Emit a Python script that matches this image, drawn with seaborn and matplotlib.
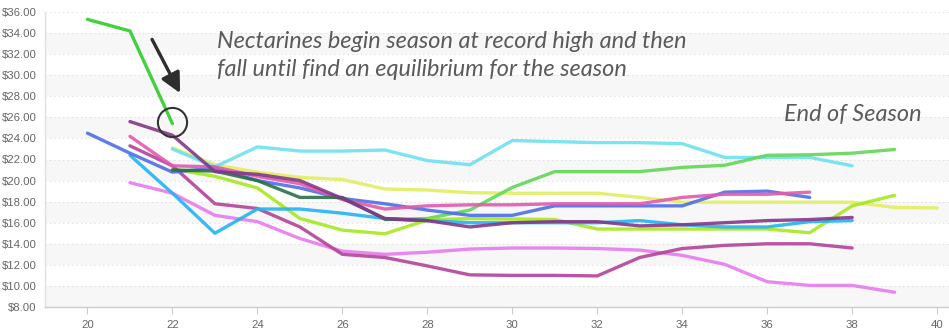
import numpy as np
import pandas as pd
import matplotlib
matplotlib.use("Agg")
import matplotlib.pyplot as plt
import seaborn as sns

# ---- data ----
weeks_ticks = [20, 22, 24, 26, 28, 30, 32, 34, 36, 38, 40]

nectarines_start = 20
nectarines = [35.3, 34.2, 25.4]

blue_start = 20
blue = [24.5, 22.6, 20.8, 21.2, 20.0, 19.3, 18.3, 17.8, 17.2, 16.7, 16.7,
        17.6, 17.6, 17.6, 17.6, 18.9, 19.0, 18.4]

skyblue_start = 21
skyblue = [22.4, 18.8, 15.0, 17.3, 17.3, 16.9, 16.4, 16.2, 16.0, 16.0, 16.0,
           16.0, 16.2, 15.8, 15.6, 15.6, 16.1, 16.2]

cyan_start = 22
cyan = [23.0, 21.3, 23.2, 22.8, 22.8, 22.9, 21.9, 21.5, 23.8, 23.7, 23.6,
        23.6, 23.5, 22.2, 22.2, 22.2, 21.4]

darkpurple_start = 21
darkpurple = [25.6, 24.3, 20.85, 20.6, 20.0, 18.3, 16.4, 16.2, 15.6, 16.0,
              16.1, 16.1, 15.7, 15.8, 16.0, 16.2, 16.3, 16.5]

pink_start = 21
pink = [24.2, 21.4, 21.3, 20.4, 19.7, 18.2, 17.3, 17.6, 17.7, 17.7, 17.8,
        17.8, 17.8, 18.4, 18.7, 18.7, 18.9]

magenta_start = 21
magenta = [23.3, 21.4, 17.8, 17.35, 15.6, 13.0, 12.7, 11.9, 11.05, 11.0,
           11.0, 10.95, 12.7, 13.55, 13.85, 14.0, 14.0, 13.6]

violet_start = 21
violet = [19.8, 18.8, 16.7, 16.1, 14.5, 13.3, 13.0, 13.2, 13.5, 13.6, 13.6,
          13.55, 13.4, 12.9, 12.05, 10.4, 10.05, 10.05, 9.4]

yellow_start = 22
yellow = [23.1, 21.5, 20.8, 20.3, 20.1, 19.2, 19.1, 18.85, 18.8, 18.8, 18.8,
          18.4, 17.95, 17.95, 17.95, 17.95, 17.95, 17.45, 17.4]

lime_start = 22
lime = [21.1, 20.4, 19.3, 16.4, 15.3, 14.95, 16.25, 16.4, 16.35, 16.3, 15.4,
        15.4, 15.4, 15.4, 15.4, 15.05, 17.6, 18.6]

green_start = 27
green = [16.3, 16.4, 17.2, 19.35, 20.85, 20.85, 20.85, 21.25, 21.45, 22.4,
         22.45, 22.6, 22.95]

darkgreen_start = 22
darkgreen = [21.0, 20.9, 20.0, 18.4, 18.4, 16.35, 16.2]

series = [
    ("Light yellow", yellow_start, yellow, "#e2ee62"),
    ("Cyan", cyan_start, cyan, "#6ee0f0"),
    ("Green", green_start, green, "#62d658"),
    ("Lime", lime_start, lime, "#a6e81e"),
    ("Violet", violet_start, violet, "#e77cef"),
    ("Magenta", magenta_start, magenta, "#b2449a"),
    ("Sky blue", skyblue_start, skyblue, "#22b4f2"),
    ("Blue", blue_start, blue, "#4d6fe6"),
    ("Pink", pink_start, pink, "#e25aae"),
    ("Dark green", darkgreen_start, darkgreen, "#2a7048"),
    ("Dark purple", darkpurple_start, darkpurple, "#853788"),
    ("Nectarines", nectarines_start, nectarines, "#2fcc2b"),
]

rows = []
for name, start, vals, _ in series:
    for i, v in enumerate(vals):
        rows.append({"series": name, "week": start + i, "price": v})
df = pd.DataFrame(rows)
palette = {name: col for name, _, _, col in series}

# ---- figure ----
sns.set_theme(style="white")
plt.rcParams['font.family'] = ['Liberation Sans', 'DejaVu Sans']

W, H = 949, 329
fig = plt.figure(figsize=(W / 100, H / 100), dpi=100)
ax = fig.add_axes([45 / W, 1 - 307 / H, (949 - 45) / W, (307 - 12) / H])

ymin, ymax = 8, 36
ax.set_ylim(ymin, ymax)
ax.set_xlim(19.0, 40.28)

# alternate bands
for lo in range(8, 36, 4):
    ax.axhspan(lo, lo + 2, color="#f7f7f7", zorder=0, lw=0)
for yv in range(10, 37, 2):
    ax.axhline(yv, color="#dadada", lw=0.8, ls=(0, (1, 3)), zorder=0.5)

sns.lineplot(data=df, x="week", y="price", hue="series", palette=palette,
             hue_order=[s[0] for s in series], estimator=None, sort=False,
             lw=2.4, alpha=0.9, legend=False, ax=ax, zorder=3)

ax.set_xticks(weeks_ticks)
ax.set_yticks(range(8, 37, 2))
ax.set_yticklabels([f"${v:.2f}" for v in range(8, 37, 2)])
ax.set_xlabel("")
ax.set_ylabel("")
ax.tick_params(axis="x", colors="#666666", labelsize=8.2, length=5, width=0.8,
               direction="out", pad=4, bottom=True, color="#cccccc")
ax.tick_params(axis="y", colors="#666666", labelsize=8.2, length=0, pad=6)
for t in ax.get_xticklabels() + ax.get_yticklabels():
    t.set_color("#666666")
for s in ["top", "right"]:
    ax.spines[s].set_visible(False)
ax.spines["left"].set_color("#e0e0e0")
ax.spines["left"].set_linewidth(1.0)
ax.spines["bottom"].set_color("#cccccc")
ax.spines["bottom"].set_linewidth(1.0)

# ---- annotations ----
hand = dict(family=["Lato", "DejaVu Sans"], style="italic", weight="normal",
            color="#5a5a5a")
fig.text(217 / W, 1 - 42 / H, "Nectarines begin season at record high and then",
         fontsize=16.9, va="center", ha="left", **hand)
fig.text(217 / W, 1 - 70 / H, "fall until find an equilibrium for the season",
         fontsize=16.9, va="center", ha="left", **hand)
fig.text(922 / W, 1 - 114 / H, "End of Season", fontsize=16.9, va="center",
         ha="right", **hand)

end_week = nectarines_start + len(nectarines) - 1
end_val = nectarines[-1]
ax.plot([end_week], [end_val + 0.2], marker="o", ms=21, mfc="none",
        mec="#333333", mew=1.5, zorder=5)
ax.annotate("", xy=(22.18, 28.3), xytext=(21.52, 33.4),
            arrowprops=dict(arrowstyle="-|>,head_length=1.0,head_width=0.5",
                            color="#2e2e2e", lw=2.4, shrinkA=0, shrinkB=0),
            zorder=6)

fig.savefig("out.png", dpi=100)
